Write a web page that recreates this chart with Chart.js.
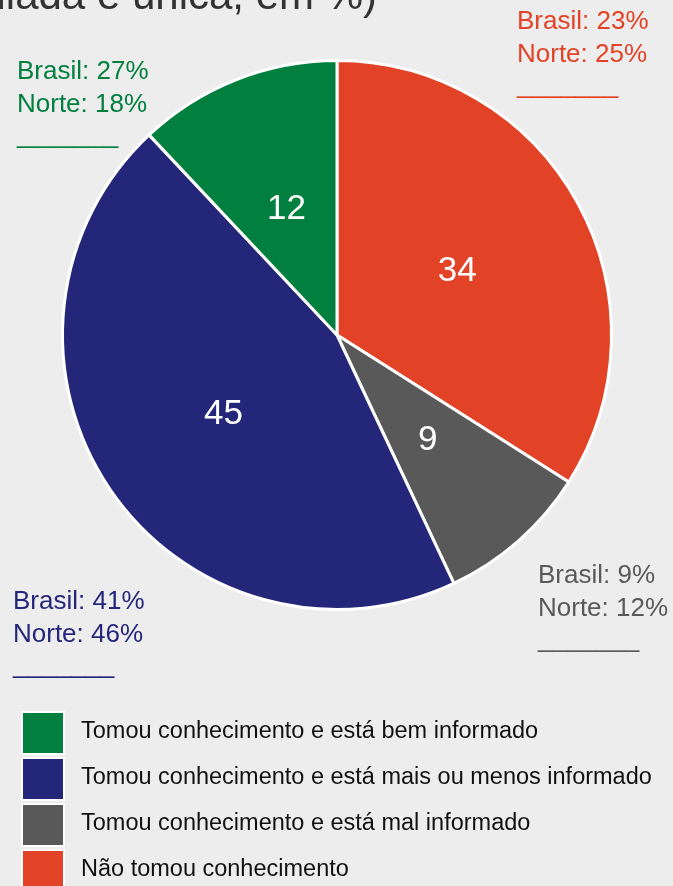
<!DOCTYPE html>
<html lang="pt-BR">
<head>
<meta charset="utf-8">
<script src="https://cdn.jsdelivr.net/npm/chart.js@4.4.1/dist/chart.umd.min.js"></script>
<style>
  html, body { margin: 0; padding: 0; background: #ededed; }
  #wrap { width: 673px; height: 886px; }
</style>
</head>
<body>
<div id="wrap"><canvas id="grafico" width="673" height="886"></canvas></div>
<script>
// dados na ordem da legenda
const categorias = [
  "Tomou conhecimento e está bem informado",
  "Tomou conhecimento e está mais ou menos informado",
  "Tomou conhecimento e está mal informado",
  "Não tomou conhecimento"
]
const valores = [12, 45, 9, 34]
const brasil = [27, 41, 9, 23]
const norte = [18, 46, 12, 25]
const cores = ["#007f3e", "#24267a", "#595959", "#e24226"]
const titulo = "(resposta estimulada e única, em %)"

const FONTE = '"Liberation Sans", Arial, sans-serif'

// posição das notas Brasil/Norte (mesma ordem da legenda)
const posNotas = [
  { x: 17, y: 79 },
  { x: 13, y: 609 },
  { x: 538, y: 583 },
  { x: 517, y: 29 }
]

// o gráfico original vai no sentido anti-horário a partir do topo
const dadosPizza = valores.slice().reverse()
const coresPizza = cores.slice().reverse()

const desenhoPlugin = {
  id: "desenho",
  afterDatasetsDraw(chart) {
    const ctx = chart.ctx
    const meta = chart.getDatasetMeta(0)
    ctx.save()
    ctx.font = `35px ${FONTE}`
    ctx.fillStyle = "#ffffff"
    ctx.textAlign = "center"
    ctx.textBaseline = "middle"
    meta.data.forEach((arc, i) => {
      const p = arc.getCenterPoint()
      ctx.fillText(String(dadosPizza[i]), p.x, p.y + 2)
    })
    ctx.restore()
  },
  afterDraw(chart) {
    const ctx = chart.ctx
    ctx.save()

    // título (cortado no topo, como no original)
    ctx.font = `42px ${FONTE}`
    ctx.fillStyle = "#333333"
    ctx.textAlign = "right"
    ctx.textBaseline = "alphabetic"
    ctx.fillText(titulo, 377, 9)

    // notas Brasil / Norte
    ctx.font = `26px ${FONTE}`
    ctx.textAlign = "left"
    categorias.forEach((c, i) => {
      const p = posNotas[i]
      ctx.fillStyle = cores[i]
      ctx.fillText(`Brasil: ${brasil[i]}%`, p.x, p.y)
      ctx.fillText(`Norte: ${norte[i]}%`, p.x, p.y + 33)
      ctx.fillText("_______", p.x, p.y + 64)
    })

    // legenda
    ctx.font = `23.5px ${FONTE}`
    ctx.textBaseline = "middle"
    categorias.forEach((c, i) => {
      const y = 713 + i * 46
      ctx.fillStyle = "#ffffff"
      ctx.fillRect(21, y - 2, 44, 44)
      ctx.fillStyle = cores[i]
      ctx.fillRect(23, y, 40, 40)
      ctx.fillStyle = "#111111"
      ctx.fillText(c, 81, y + 19)
    })

    ctx.restore()
  }
}

new Chart(document.getElementById("grafico"), {
  type: "pie",
  data: {
    labels: categorias.slice().reverse(),
    datasets: [{
      data: dadosPizza,
      backgroundColor: coresPizza,
      borderColor: "#ffffff",
      borderWidth: 3,
      hoverOffset: 0
    }]
  },
  options: {
    responsive: false,
    animation: false,
    layout: {
      padding: { left: 61, right: 60, top: 59, bottom: 275 }
    },
    plugins: {
      legend: { display: false },
      tooltip: { enabled: false }
    }
  },
  plugins: [desenhoPlugin]
})
</script>
</body>
</html>
